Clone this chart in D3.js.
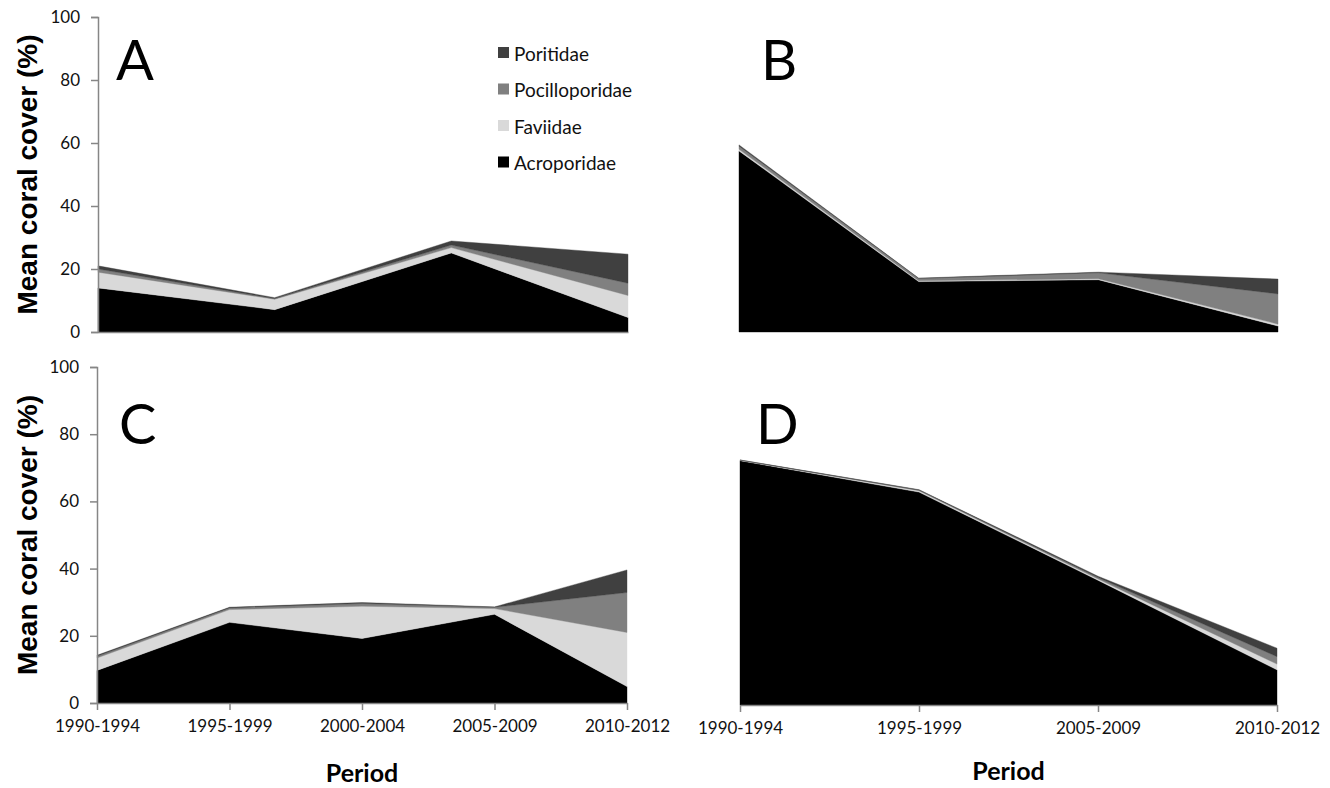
<!DOCTYPE html>
<html>
<head>
<meta charset="utf-8">
<script src="https://cdnjs.cloudflare.com/ajax/libs/d3/7.8.5/d3.min.js"></script>
<style>
  body { margin: 0; background: #fff; }
  svg { display: block; }
  .tick text { font-family: Lato, "Open Sans", sans-serif; font-size: 17px; fill: #111; }
</style>
</head>
<body>
<div id="chart"></div>
<script>
// --- data ---
var periods4 = ["1990-1994", "1995-1999", "2005-2009", "2010-2012"];
var periods5 = ["1990-1994", "1995-1999", "2000-2004", "2005-2009", "2010-2012"];
var families = ["Acroporidae", "Faviidae", "Pocilloporidae", "Poritidae"];
var yTicks = [0, 20, 40, 60, 80, 100];

var acroA = [14.0, 7.1, 25.1, 4.6];
var favA  = [5.0, 3.3, 1.7, 7.0];
var pocA  = [1.0, 0.2, 0.8, 3.9];
var porA  = [1.0, 0.3, 1.3, 9.2];

var acroB = [57.5, 16.0, 16.6, 1.9];
var favB  = [0.5, 0.3, 0.3, 0.6];
var pocB  = [1.0, 0.7, 1.9, 9.6];
var porB  = [0.4, 0.1, 0.2, 4.7];

var acroC = [9.7, 24.0, 19.2, 26.4, 4.9];
var favC  = [3.7, 3.8, 9.6, 1.7, 16.1];
var pocC  = [0.5, 0.5, 0.8, 0.4, 11.9];
var porC  = [0.3, 0.2, 0.3, 0.1, 6.7];

var acroD = [72.3, 63.0, 36.9, 10.4];
var favD  = [0.1, 0.4, 0.4, 1.7];
var pocD  = [0.05, 0.2, 0.4, 2.2];
var porD  = [0.05, 0.1, 0.4, 2.5];

var colors = { Acroporidae: "#000000", Faviidae: "#d9d9d9", Pocilloporidae: "#808080", Poritidae: "#404040" };
var axisColor = "#868686";

function rows(periods, a, f, p, r) {
  return periods.map(function(d, i) {
    return { period: d, Acroporidae: a[i], Faviidae: f[i], Pocilloporidae: p[i], Poritidae: r[i] };
  });
}

var panels = [
  { letter: "A", data: rows(periods4, acroA, favA, pocA, porA), x0: 98, x1: 628, y0: 17, y1: 332,
    lx: 116, ly: 80, yAxis: true, xLine: true, xTicks: false, legend: true },
  { letter: "B", data: rows(periods4, acroB, favB, pocB, porB), x0: 739, x1: 1278, y0: 17, y1: 332,
    lx: 761, ly: 80 },
  { letter: "C", data: rows(periods5, acroC, favC, pocC, porC), x0: 97, x1: 627, y0: 367, y1: 703,
    lx: 119, ly: 444, yAxis: true, xLine: true, xTicks: true, title: 782 },
  { letter: "D", data: rows(periods4, acroD, favD, pocD, porD), x0: 740, x1: 1277, y0: 367, y1: 705,
    lx: 756, ly: 444, xLine: true, xTicks: true, title: 780 }
];

var svg = d3.select("#chart").append("svg").attr("width", 1330).attr("height", 788);
var stack = d3.stack().keys(families);

panels.forEach(function(p) {
  var x = d3.scalePoint().domain(p.data.map(function(d) { return d.period; })).range([p.x0, p.x1]).padding(0);
  var y = d3.scaleLinear().domain([0, 100]).range([p.y1, p.y0]);
  var g = svg.append("g");

  var area = d3.area()
    .x(function(d) { return x(d.data.period); })
    .y0(function(d) { return y(d[0]); })
    .y1(function(d) { return y(d[1]); });

  g.selectAll("path.layer").data(stack(p.data)).enter().append("path")
    .attr("class", "layer")
    .attr("d", area)
    .attr("fill", function(d) { return colors[d.key]; })
    .attr("stroke", function(d) { return colors[d.key]; })
    .attr("stroke-width", 0.4);

  if (p.yAxis) {
    var ya = g.append("g").attr("transform", "translate(" + p.x0 + ",0)")
      .call(d3.axisLeft(y).tickValues(yTicks).tickSize(7).tickPadding(11));
    ya.select(".domain").attr("stroke", axisColor).attr("stroke-width", 1.5);
    ya.selectAll(".tick line").attr("stroke", axisColor).attr("stroke-width", 1.5);
    g.append("text")
      .attr("transform", "translate(27," + ((p.y0 + p.y1) / 2) + ") rotate(-90)")
      .attr("text-anchor", "middle").attr("dominant-baseline", "central")
      .style("font-family", "'Liberation Sans', Arial, sans-serif").style("font-weight", "bold").style("font-size", "28px")
      .text("Mean coral cover (%)");
  }

  if (p.xLine) {
    var xa = g.append("g").attr("transform", "translate(0," + p.y1 + ")")
      .call(d3.axisBottom(x).tickSize(p.xTicks ? 7 : 0).tickSizeOuter(0).tickPadding(10));
    xa.select(".domain").attr("stroke", axisColor).attr("stroke-width", 1.5);
    xa.selectAll(".tick line").attr("stroke", axisColor).attr("stroke-width", 1.5);
    if (!p.xTicks) xa.selectAll(".tick text").remove();
  }

  if (p.title) {
    g.append("text")
      .attr("x", (p.x0 + p.x1) / 2).attr("y", p.title)
      .attr("text-anchor", "middle")
      .style("font-family", "Lato, 'Open Sans', sans-serif").style("font-weight", "bold").style("font-size", "25px")
      .text("Period");
  }

  g.append("text")
    .attr("x", p.lx).attr("y", p.ly)
    .style("font-family", "Lato, 'Open Sans', sans-serif").style("font-size", "56px")
    .text(p.letter);

  if (p.legend) {
    var legendOrder = families.slice().reverse();
    var lg = g.append("g").attr("transform", "translate(498,53)");
    var item = lg.selectAll("g").data(legendOrder).enter().append("g")
      .attr("transform", function(d, i) { return "translate(0," + (i * 36.5) + ")"; });
    item.append("rect").attr("x", 0).attr("y", -6).attr("width", 11).attr("height", 11)
      .attr("fill", function(d) { return colors[d]; });
    item.append("text").attr("x", 16).attr("y", 0).attr("dominant-baseline", "central")
      .style("font-family", "Lato, 'Open Sans', sans-serif").style("font-size", "19px").style("fill", "#111")
      .text(function(d) { return d; });
  }
});
</script>
</body>
</html>
